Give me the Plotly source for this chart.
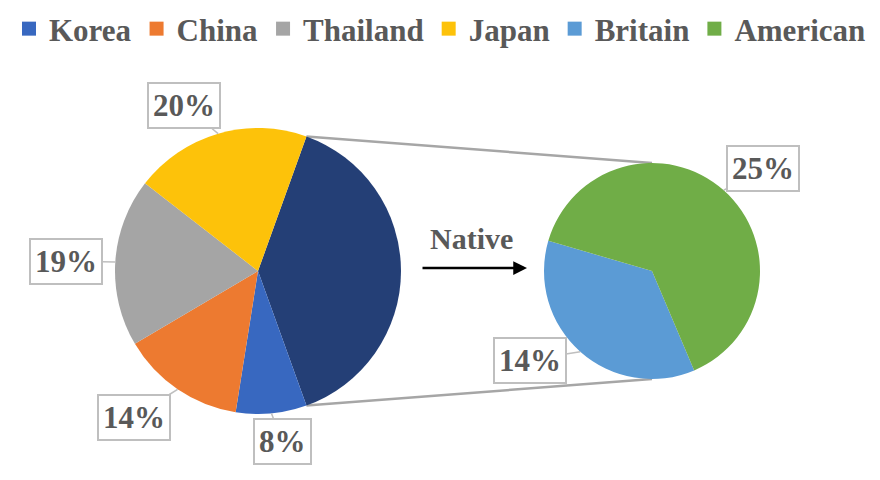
import math
import plotly.graph_objects as go

# main pie (Native = Britain + American, exploded into the second pie)
main_labels = ['Native', 'Korea', 'China', 'Thailand', 'Japan']
main_values = [39, 8, 14, 19, 20]
main_colors = ['#243F76', '#3868C0', '#ED7A30', '#A5A5A5', '#FDC20A']

# second pie (split of Native)
sub_labels = ['Britain', 'American']
sub_values = [14, 25]
sub_colors = ['#5B9BD5', '#70AD47']

legend_labels = ['Korea', 'China', 'Thailand', 'Japan', 'Britain', 'American']
legend_colors = ['#3868C0', '#ED7A30', '#A5A5A5', '#FDC20A', '#5B9BD5', '#70AD47']

W, H = 880, 480
FONT = 'Times New Roman, Liberation Serif, serif'
GREY = '#595959'

# geometry in pixels
c1, r1 = (258, 271), 143
c2, r2 = (652, 271), 108


def px(x):
    return x / W


def py(y):
    return 1 - y / H


def dom(c, r):
    return dict(x=[px(c[0] - r), px(c[0] + r)], y=[py(c[1] + r), py(c[1] - r)])


def edge(c, r, ang):
    a = math.radians(ang)
    return c[0] + r * math.sin(a), c[1] - r * math.cos(a)


total = sum(main_values)
rot1 = 90 - main_values[0] / total * 180
rot2 = 157

fig = go.Figure()
fig.add_trace(go.Pie(labels=main_labels, values=main_values, sort=False,
                     direction='clockwise', rotation=rot1, domain=dom(c1, r1),
                     marker=dict(colors=main_colors, line=dict(width=0)),
                     textinfo='none', hoverinfo='label+value', showlegend=False))
fig.add_trace(go.Pie(labels=sub_labels, values=sub_values, sort=False,
                     direction='clockwise', rotation=rot2, domain=dom(c2, r2),
                     marker=dict(colors=sub_colors, line=dict(width=0)),
                     textinfo='none', hoverinfo='label+value', showlegend=False))

# legend entries (no Native)
for lab, col in zip(legend_labels, legend_colors):
    fig.add_trace(go.Scatter(x=[None], y=[None], mode='markers', name=lab,
                             marker=dict(symbol='square', size=14, color=col)))

# callout labels: box centre in pixels for each slice
annotations = []
box_pos1 = {'Korea': (282, 441), 'China': (134, 417), 'Thailand': (66, 261), 'Japan': (184, 105)}
box_pos2 = {'Britain': (530, 360), 'American': (763, 168)}


def add_labels(labels, values, c, r, rot, boxes):
    tot = sum(values)
    start = rot
    for lab, v in zip(labels, values):
        span = v / tot * 360
        mid = start + span / 2
        start += span
        if lab not in boxes:
            continue
        tx, ty = edge(c, r, mid)
        bx, by = boxes[lab]
        annotations.append(dict(
            x=px(tx), y=py(ty), xref='paper', yref='paper',
            ax=bx - tx, ay=by - ty, axref='pixel', ayref='pixel',
            text=f'{v}%', showarrow=True, arrowhead=0, arrowwidth=1.5,
            arrowcolor='#BFBFBF', standoff=0,
            font=dict(family=FONT, size=31, color=GREY, weight='bold'),
            bgcolor='white', bordercolor='#BFBFBF', borderwidth=2, borderpad=4))


add_labels(main_labels, main_values, c1, r1, rot1, box_pos1)
add_labels(sub_labels, sub_values, c2, r2, rot2, box_pos2)

# Native arrow
annotations.append(dict(x=px(527), y=py(268), xref='paper', yref='paper',
                        ax=-106, ay=0, axref='pixel', ayref='pixel', text='',
                        showarrow=True, arrowhead=2, arrowsize=1.1, arrowwidth=2.5,
                        arrowcolor='black', standoff=0))
annotations.append(dict(x=px(471), y=py(238), xref='paper', yref='paper',
                        text='Native', showarrow=False,
                        font=dict(family=FONT, size=30, color=GREY, weight='bold')))

# connector lines from the Native slice to the second pie
top_pt = edge(c1, r1, rot1)
bot_pt = edge(c1, r1, rot1 + main_values[0] / total * 360)
shapes = [
    dict(type='line', xref='paper', yref='paper', layer='below',
         x0=px(top_pt[0]), y0=py(top_pt[1]), x1=px(c2[0]), y1=py(c2[1] - r2),
         line=dict(color='#A6A6A6', width=2.5)),
    dict(type='line', xref='paper', yref='paper', layer='below',
         x0=px(bot_pt[0]), y0=py(bot_pt[1]), x1=px(c2[0]), y1=py(c2[1] + r2),
         line=dict(color='#A6A6A6', width=2.5)),
]

fig.update_layout(
    width=W, height=H,
    margin=dict(l=0, r=0, t=0, b=0),
    paper_bgcolor='white', plot_bgcolor='white',
    xaxis=dict(visible=False), yaxis=dict(visible=False),
    showlegend=True,
    legend=dict(orientation='h', x=0.5, xanchor='center', y=py(29), yanchor='middle',
                font=dict(family=FONT, size=31, color=GREY, weight='bold'),
                itemwidth=30, bgcolor='rgba(0,0,0,0)'),
    annotations=annotations,
    shapes=shapes,
)

# drop the default page margin so the figure sits at the window origin
fig.write_html('out.html', config={'displayModeBar': False},
               post_script="document.body.style.margin='0';")
